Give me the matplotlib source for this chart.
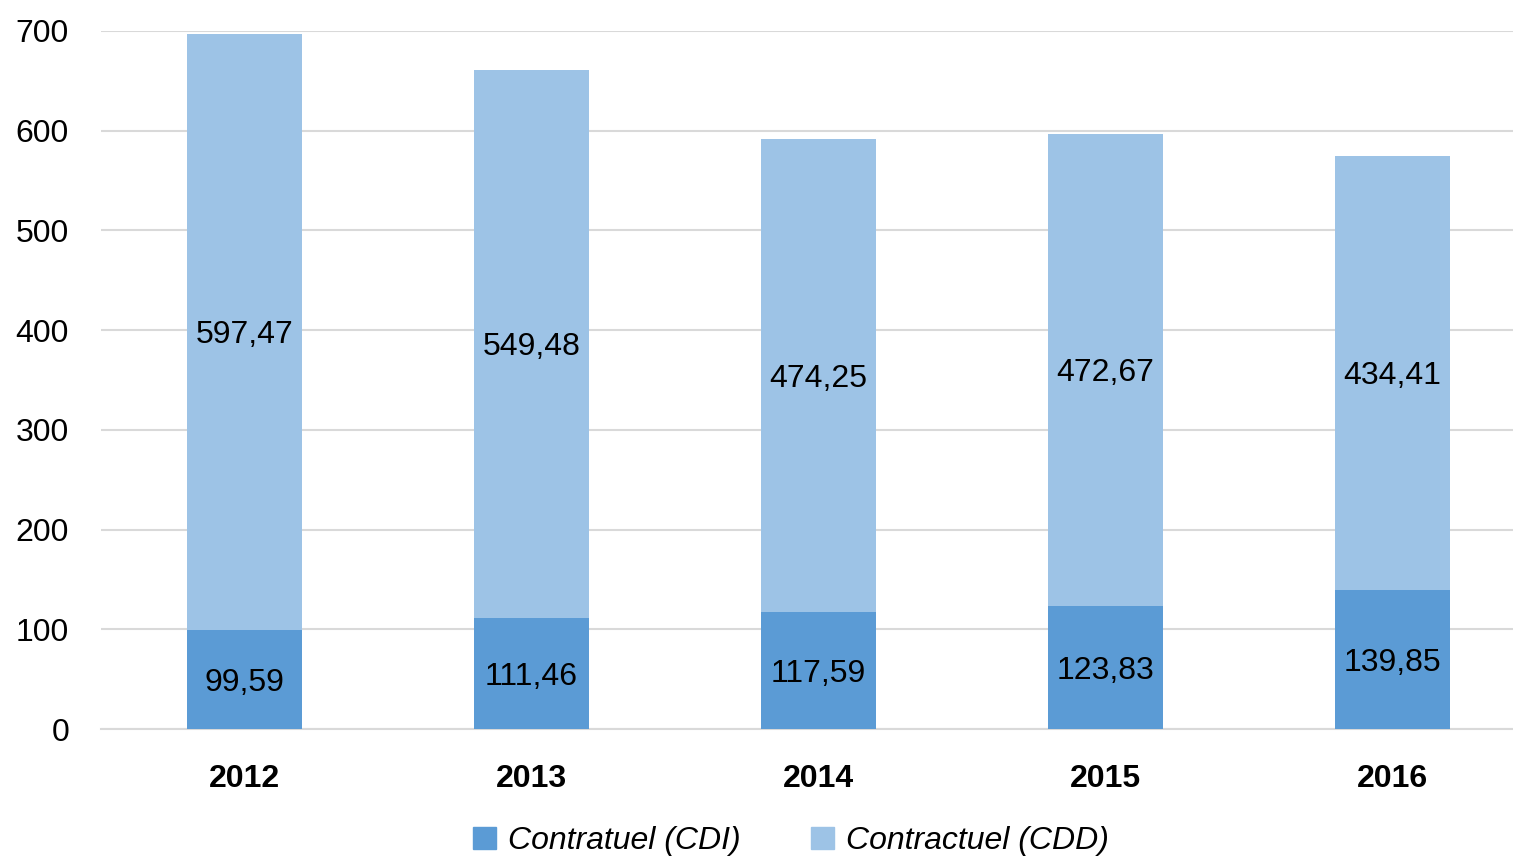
import matplotlib
matplotlib.use("Agg")
import matplotlib.pyplot as plt
from matplotlib.patches import Patch

years = ["2012", "2013", "2014", "2015", "2016"]
cdi = [99.59, 111.46, 117.59, 123.83, 139.85]
cdd = [597.47, 549.48, 474.25, 472.67, 434.41]
series_names = ["Contratuel (CDI)", "Contractuel (CDD)"]
yticks = [0, 100, 200, 300, 400, 500, 600, 700]

c_cdi = "#5B9BD5"
c_cdd = "#9DC3E6"
FONT = ["Liberation Sans Narrow", "Liberation Sans", "DejaVu Sans"]
plt.rcParams['font.family'] = FONT

fig = plt.figure(figsize=(15.13, 8.6), dpi=100)
ax = fig.add_axes([0.0668, 0.1523, 0.9332, 0.8117])

x = list(range(len(years)))
w = 0.4
ax.bar(x, cdi, width=w, color=c_cdi, zorder=3)
ax.bar(x, cdd, width=w, bottom=cdi, color=c_cdd, zorder=3)

fmt = lambda v: f"{v:.2f}".replace(".", ",")
FS = 23
for i in x:
    ax.text(i, cdi[i] / 2, fmt(cdi[i]), ha="center", va="center_baseline", fontsize=FS, color="black", zorder=4)
    ax.text(i, cdi[i] + cdd[i] / 2, fmt(cdd[i]), ha="center", va="center_baseline", fontsize=FS, color="black", zorder=4)

ax.set_xlim(-0.5, 4.42)
ax.set_ylim(0, 700)
ax.set_yticks(yticks)
ax.set_yticklabels([str(t) for t in yticks], fontsize=FS)
ax.set_xticks(x)
ax.set_xticklabels(years, fontsize=FS, fontweight="bold")
ax.yaxis.grid(True, color="#D9D9D9", linewidth=1.5, zorder=0)
ax.set_axisbelow(True)
for s in ["top", "right", "left"]:
    ax.spines[s].set_visible(False)
ax.spines["bottom"].set_color("#D9D9D9")
ax.spines["bottom"].set_linewidth(1.5)
ax.tick_params(axis="both", length=0)
ax.tick_params(axis="y", pad=23)
ax.tick_params(axis="x", pad=25)

handles = [Patch(color=c_cdi), Patch(color=c_cdd)]
fig.legend(handles, series_names, loc="center", bbox_to_anchor=(0.523, 0.022), ncol=2,
           frameon=False, prop={"family": FONT, "style": "italic", "size": FS},
           handlelength=0.7, handleheight=0.7, handletextpad=0.4, columnspacing=2.2)

fig.savefig("out.png", dpi=100)
